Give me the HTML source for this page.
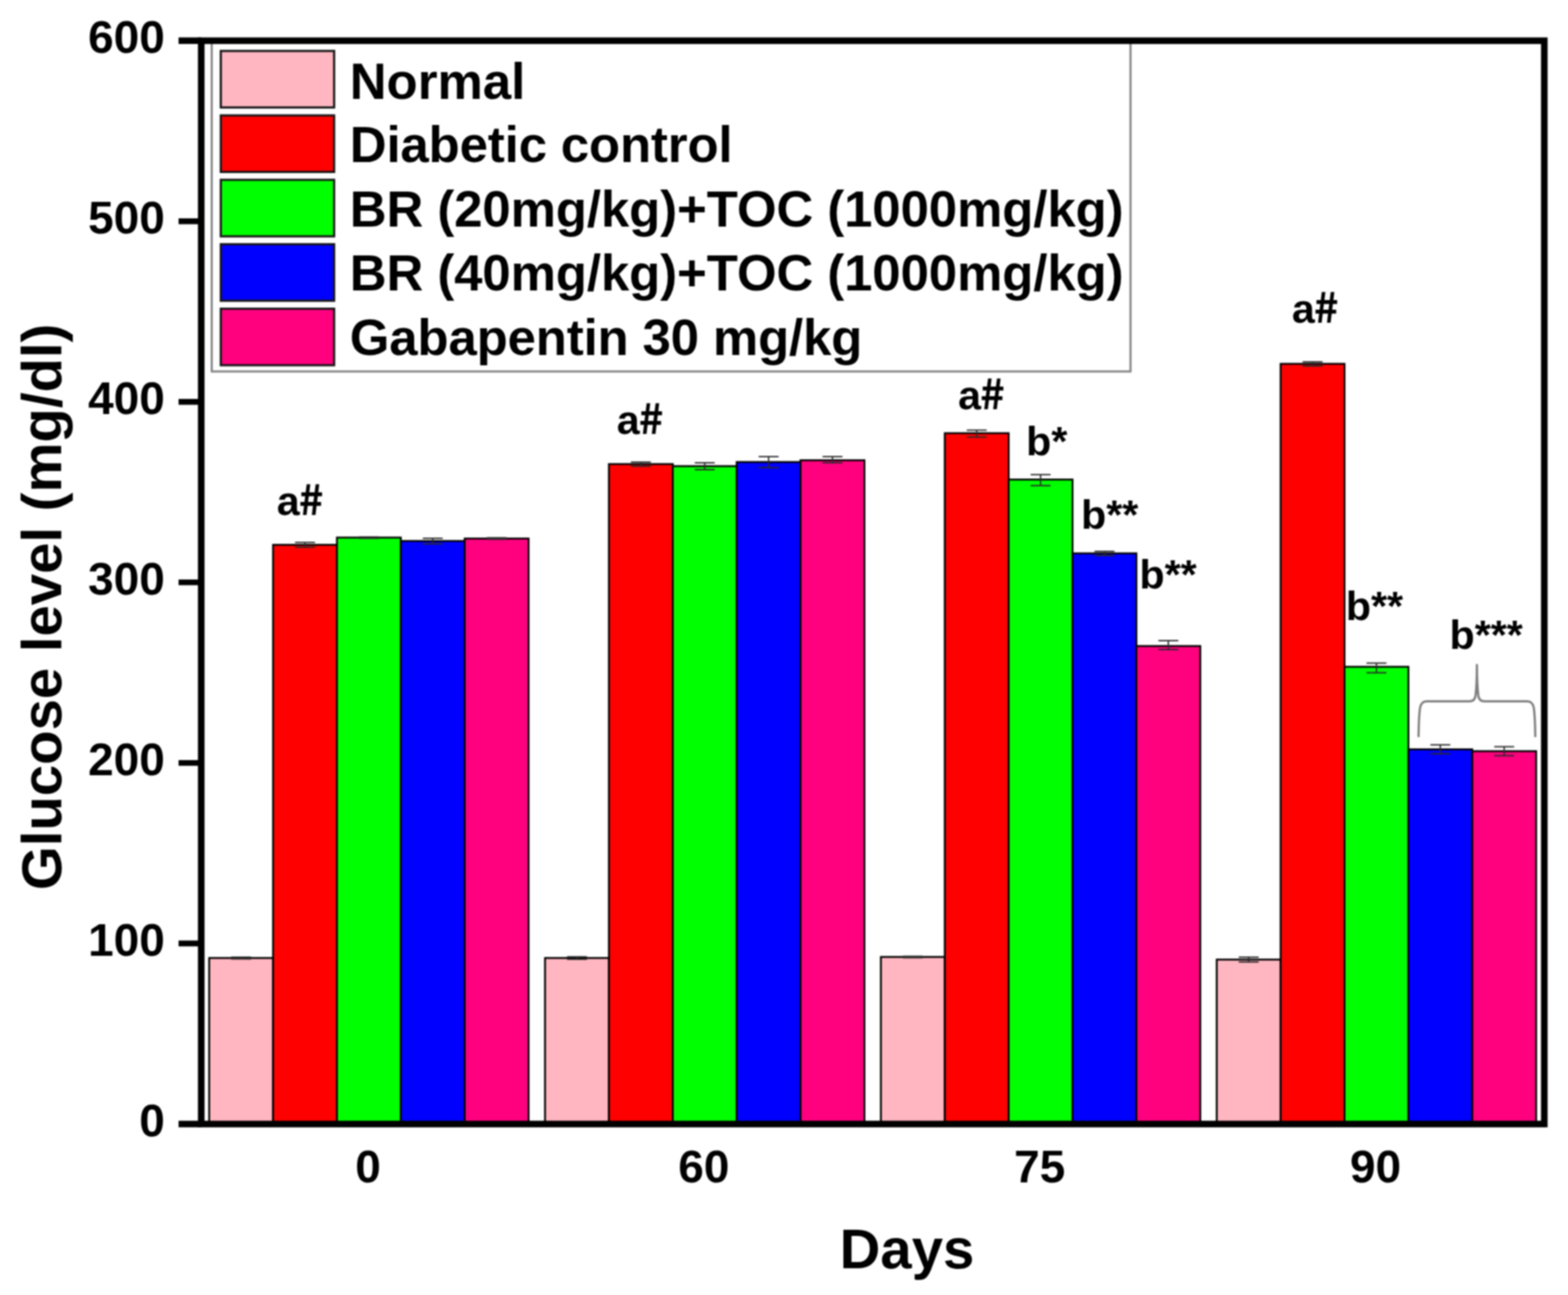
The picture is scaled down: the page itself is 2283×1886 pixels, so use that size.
<!DOCTYPE html>
<html lang="en"><head><meta charset="utf-8"><title>Glucose level chart</title>
<style>html,body{margin:0;padding:0;background:#fff}svg{display:block;filter:blur(1px)}text{font-family:"Liberation Sans", sans-serif;font-weight:bold;fill:#000}</style></head><body>
<svg width="2283" height="1886" viewBox="0 0 2283 1886" role="img" aria-label="Glucose level bar chart">
<rect width="2283" height="1886" fill="#fff"/>
<g stroke="#000" stroke-width="2.7">
<rect x="304.6" y="1395.2" width="93.0" height="241.8" fill="#FFB6C1"/>
<rect x="397.6" y="793.5" width="93.0" height="843.5" fill="#FF0000"/>
<rect x="490.6" y="782.9" width="93.0" height="854.1" fill="#00FF00"/>
<rect x="583.6" y="787.9" width="93.0" height="849.1" fill="#0000FF"/>
<rect x="676.6" y="784.3" width="93.0" height="852.7" fill="#FF007F"/>
<rect x="793.6" y="1395.2" width="93.0" height="241.8" fill="#FFB6C1"/>
<rect x="886.6" y="675.9" width="93.0" height="961.1" fill="#FF0000"/>
<rect x="979.6" y="678.9" width="93.0" height="958.1" fill="#00FF00"/>
<rect x="1072.6" y="672.9" width="93.0" height="964.1" fill="#0000FF"/>
<rect x="1165.6" y="670.3" width="93.0" height="966.7" fill="#FF007F"/>
<rect x="1282.6" y="1393.7" width="93.0" height="243.3" fill="#FFB6C1"/>
<rect x="1375.6" y="630.9" width="93.0" height="1006.1" fill="#FF0000"/>
<rect x="1468.6" y="698.4" width="93.0" height="938.6" fill="#00FF00"/>
<rect x="1561.6" y="805.9" width="93.0" height="831.1" fill="#0000FF"/>
<rect x="1654.6" y="940.9" width="93.0" height="696.1" fill="#FF007F"/>
<rect x="1771.6" y="1397.5" width="93.0" height="239.5" fill="#FFB6C1"/>
<rect x="1864.6" y="529.9" width="93.0" height="1107.1" fill="#FF0000"/>
<rect x="1957.6" y="971.1" width="93.0" height="665.9" fill="#00FF00"/>
<rect x="2050.6" y="1091.3" width="93.0" height="545.7" fill="#0000FF"/>
<rect x="2143.6" y="1094.0" width="93.0" height="543.0" fill="#FF007F"/>
</g>
<g stroke="#2a2a2a" stroke-width="2" fill="none">
<path d="M336.6 1394.0H365.6M336.6 1396.4H365.6M351.1 1394.0V1396.4"/>
<path d="M429.6 790.0H458.6M429.6 797.0H458.6M444.1 790.0V797.0"/>
<path d="M522.6 781.9H551.6M522.6 783.9H551.6M537.1 781.9V783.9"/>
<path d="M615.6 783.9H644.6M615.6 791.9H644.6M630.1 783.9V791.9"/>
<path d="M708.6 783.3H737.6M708.6 785.3H737.6M723.1 783.3V785.3"/>
<path d="M825.6 1393.4H854.6M825.6 1397.0H854.6M840.1 1393.4V1397.0"/>
<path d="M918.6 672.9H947.6M918.6 678.9H947.6M933.1 672.9V678.9"/>
<path d="M1011.6 673.9H1040.6M1011.6 683.9H1040.6M1026.1 673.9V683.9"/>
<path d="M1104.6 664.9H1133.6M1104.6 680.9H1133.6M1119.1 664.9V680.9"/>
<path d="M1197.6 665.0H1226.6M1197.6 674.0H1226.6M1212.1 665.0V674.0"/>
<path d="M1314.6 1392.7H1343.6M1314.6 1394.7H1343.6M1329.1 1392.7V1394.7"/>
<path d="M1407.6 626.6H1436.6M1407.6 636.6H1436.6M1422.1 626.6V636.6"/>
<path d="M1500.6 691.2H1529.6M1500.6 707.2H1529.6M1515.1 691.2V707.2"/>
<path d="M1593.6 802.9H1622.6M1593.6 808.9H1622.6M1608.1 802.9V808.9"/>
<path d="M1686.6 933.0H1715.6M1686.6 946.0H1715.6M1701.1 933.0V946.0"/>
<path d="M1803.6 1394.0H1832.6M1803.6 1401.0H1832.6M1818.1 1394.0V1401.0"/>
<path d="M1896.6 526.9H1925.6M1896.6 532.9H1925.6M1911.1 526.9V532.9"/>
<path d="M1989.6 965.8H2018.6M1989.6 979.8H2018.6M2004.1 965.8V979.8"/>
<path d="M2082.6 1084.8H2111.6M2082.6 1097.8H2111.6M2097.1 1084.8V1097.8"/>
<path d="M2175.6 1087.5H2204.6M2175.6 1100.5H2204.6M2190.1 1087.5V1100.5"/>
</g>
<rect x="308.3" y="62.0" width="1337.7" height="479.0" fill="#fff" stroke="#808080" stroke-width="3"/>
<rect x="321.5" y="74.2" width="165" height="82.3" fill="#FFB6C1" stroke="#161616" stroke-width="3.2"/>
<text x="509.3" y="143.7" font-size="74.2" textLength="255.6" lengthAdjust="spacing">Normal</text>
<rect x="321.5" y="168.1" width="165" height="82.3" fill="#FF0000" stroke="#161616" stroke-width="3.2"/>
<text x="509.3" y="235.5" font-size="74.2" textLength="557.4" lengthAdjust="spacing">Diabetic control</text>
<rect x="321.5" y="261.9" width="165" height="82.3" fill="#00FF00" stroke="#161616" stroke-width="3.2"/>
<text x="509.3" y="329.9" font-size="74.2" textLength="1126.7" lengthAdjust="spacing">BR (20mg/kg)+TOC (1000mg/kg)</text>
<rect x="321.5" y="355.7" width="165" height="82.3" fill="#0000FF" stroke="#161616" stroke-width="3.2"/>
<text x="509.3" y="423.1" font-size="74.2" textLength="1126.7" lengthAdjust="spacing">BR (40mg/kg)+TOC (1000mg/kg)</text>
<rect x="321.5" y="449.6" width="165" height="82.3" fill="#FF007F" stroke="#161616" stroke-width="3.2"/>
<text x="509.3" y="516.7" font-size="74.2" textLength="746.3" lengthAdjust="spacing">Gabapentin 30 mg/kg</text>
<g stroke="#000" stroke-width="9.6" fill="none">
<rect x="293.0" y="59.3" width="1955.5" height="1577.7"/>
<line x1="260" y1="1637.0" x2="293.0" y2="1637.0" stroke-width="9.6"/>
<line x1="260" y1="1374.0" x2="293.0" y2="1374.0" stroke-width="8.4"/>
<line x1="260" y1="1111.1" x2="293.0" y2="1111.1" stroke-width="8.4"/>
<line x1="260" y1="848.1" x2="293.0" y2="848.1" stroke-width="8.4"/>
<line x1="260" y1="585.2" x2="293.0" y2="585.2" stroke-width="8.4"/>
<line x1="260" y1="322.2" x2="293.0" y2="322.2" stroke-width="8.4"/>
<line x1="260" y1="59.3" x2="293.0" y2="59.3" stroke-width="9.6"/>
</g>
<text x="240" y="1655.0" font-size="67" text-anchor="end">0</text>
<text x="240" y="1392.0" font-size="67" text-anchor="end">100</text>
<text x="240" y="1129.1" font-size="67" text-anchor="end">200</text>
<text x="240" y="866.1" font-size="67" text-anchor="end">300</text>
<text x="240" y="603.2" font-size="67" text-anchor="end">400</text>
<text x="240" y="340.2" font-size="67" text-anchor="end">500</text>
<text x="240" y="77.3" font-size="67" text-anchor="end">600</text>
<text x="535.8" y="1721.8" font-size="67" text-anchor="middle">0</text>
<text x="1024.8" y="1721.8" font-size="67" text-anchor="middle">60</text>
<text x="1513.8" y="1721.8" font-size="67" text-anchor="middle">75</text>
<text x="2002.8" y="1721.8" font-size="67" text-anchor="middle">90</text>
<text x="1320.6" y="1846.5" font-size="82" text-anchor="middle">Days</text>
<text transform="translate(88.7 883.8) rotate(-90)" font-size="82" text-anchor="middle">Glucose level (mg/dl)</text>
<text x="403.0" y="750.0" font-size="60">a<tspan font-family="'Noto Sans CJK SC', 'Liberation Sans', sans-serif" font-size="61" dx="-1.5">#</tspan></text>
<text x="898.0" y="632.0" font-size="60">a<tspan font-family="'Noto Sans CJK SC', 'Liberation Sans', sans-serif" font-size="61" dx="-1.5">#</tspan></text>
<text x="1395.0" y="596.0" font-size="60">a<tspan font-family="'Noto Sans CJK SC', 'Liberation Sans', sans-serif" font-size="61" dx="-1.5">#</tspan></text>
<text x="1881.0" y="470.0" font-size="60">a<tspan font-family="'Noto Sans CJK SC', 'Liberation Sans', sans-serif" font-size="61" dx="-1.5">#</tspan></text>
<text x="1494.0" y="663.0" font-size="60">b*</text>
<text x="1574.0" y="770.0" font-size="60">b**</text>
<text x="1659.0" y="857.0" font-size="60">b**</text>
<text x="1959.5" y="902.5" font-size="60">b**</text>
<text x="2110.5" y="945.0" font-size="60">b***</text>
<path d="M2065.4 1073.5 C2065.6 1058 2066.2 1040 2067.6 1031 Q2069.2 1021.4 2077 1021.4 H2139.5 Q2147.2 1021.4 2148.4 1013 C2149.6 1003 2150.4 988 2150.4 968.4 C2150.4 988 2151.2 1003 2152.4 1013 Q2153.6 1021.4 2161.3 1021.4 H2223.8 Q2231.6 1021.4 2233.2 1031 C2234.6 1040 2235.2 1058 2235.4 1073.5" fill="none" stroke="#7d7d7d" stroke-width="3.2" stroke-linejoin="round"/>
</svg></body></html>
